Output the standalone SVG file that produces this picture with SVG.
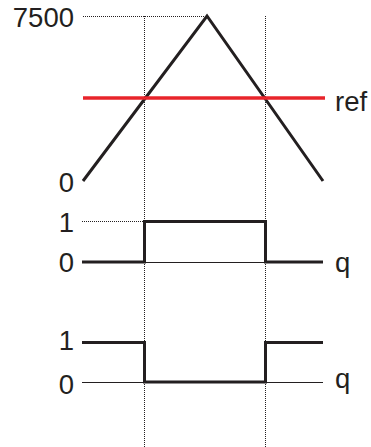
<svg xmlns="http://www.w3.org/2000/svg" width="371" height="447" viewBox="0 0 371 447">
<style>
text{font-family:"Liberation Sans",Arial,sans-serif;font-size:27.5px;fill:#231f20}
.lbl{text-anchor:end}
.dot{stroke:#231f20;stroke-width:1;stroke-dasharray:1 1;fill:none}
.thick{stroke:#231f20;stroke-width:3;fill:none;stroke-linejoin:miter}
.thin{stroke:#231f20;stroke-width:1;fill:none}
.ref{stroke:#e8242b;stroke-width:3.5;fill:none}
</style>
<rect width="371" height="447" fill="#fff"/>
<g id="connectors">
<line class="dot" x1="83" y1="16.5" x2="207" y2="16.5"/>
<line class="dot" x1="144.5" y1="16" x2="144.5" y2="447"/>
<line class="dot" x1="265.5" y1="16" x2="265.5" y2="447"/>
<line class="dot" x1="82" y1="221.5" x2="144" y2="221.5"/>
</g>
<g id="triangle">
<polyline class="thick" points="83,181 207,16 323,181"/>
<line class="ref" x1="83" y1="98" x2="325" y2="98"/>
<text class="lbl" x="74" y="26.5">7500</text>
<text class="lbl" x="74" y="191.5">0</text>
<text x="335" y="111">ref</text>
</g>
<g id="pulse-q">
<line class="thin" x1="144" y1="262.5" x2="266" y2="262.5"/>
<polyline class="thick" points="82,262 144.5,262 144.5,221.5 265.5,221.5 265.5,262 323,262"/>
<text class="lbl" x="74" y="231.5">1</text>
<text class="lbl" x="74" y="272">0</text>
<text x="335" y="272">q</text>
</g>
<g id="pulse-qbar">
<line class="thin" x1="82" y1="382.5" x2="323" y2="382.5"/>
<polyline class="thick" points="82,342.5 144.5,342.5 144.5,382 265.5,382 265.5,342.5 323,342.5"/>
<text class="lbl" x="74" y="350">1</text>
<text class="lbl" x="74" y="394">0</text>
<text x="335" y="388">q</text>
</g>
</svg>
